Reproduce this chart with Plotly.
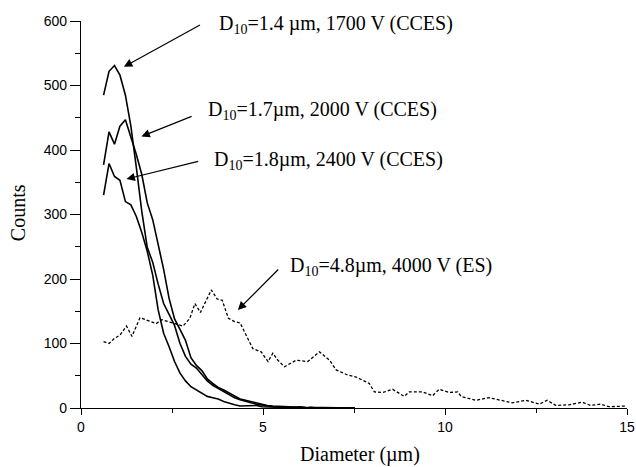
import plotly.graph_objects as go

# CCES diameter bins (µm)
x_cces = [0.62, 0.77, 0.92, 1.07, 1.22, 1.37, 1.52, 1.67, 1.82, 1.97, 2.12, 2.27, 2.42, 2.57,
          2.72, 2.87, 3.02, 3.17, 3.32, 3.47, 3.62, 3.77, 3.92, 4.07, 4.22, 4.37, 4.52, 4.67,
          4.82, 4.97, 5.12, 5.27, 5.42, 5.57, 5.72, 5.87, 6.02, 6.17, 6.32, 6.47, 6.62, 6.77,
          6.92, 7.07, 7.22, 7.37, 7.52]

counts_1700 = [485, 522, 531, 516, 485, 437, 373, 305, 249, 226, 192, 162, 145, 128,
               100, 80, 68, 62, 52, 42, 35, 30, 26, 20, 16, 13, 10, 8,
               6, 4, 3, 2, 2, 1, 1, 1, 1, 0, 1, 0, 0, 0,
               0, 0, 0, 0, 0]

counts_2000 = [377, 428, 409, 437, 447, 420, 393, 362, 318, 292, 255, 215, 170, 138,
               122, 105, 78, 66, 58, 45, 38, 32, 28, 23, 18, 14, 12, 10,
               7, 5, 4, 3, 3, 2, 2, 1, 2, 1, 1, 1, 0, 1,
               0, 0, 1, 0, 0]

counts_2400 = [330, 379, 359, 353, 320, 315, 297, 272, 243, 206, 152, 116, 95, 72,
               54, 42, 33, 28, 24, 18, 16, 14, 10, 7, 5, 3, 3, 4,
               4, 2, 2, 1, 1, 1, 0, 1, 0, 0, 0, 0, 0, 0,
               0, 0, 0, 0, 0]

# ES distribution
x_es = [0.62, 0.77, 0.92, 1.07, 1.25, 1.40, 1.62, 1.85, 2.07, 2.22, 2.40, 2.58, 2.80, 2.99,
        3.13, 3.28, 3.58, 3.74, 3.88, 4.05, 4.22, 4.37, 4.54, 4.72, 4.95, 5.14, 5.27, 5.41,
        5.59, 5.91, 6.23, 6.55, 6.83, 7.01, 7.33, 7.56, 7.74, 7.92, 8.06, 8.29, 8.56, 8.88,
        9.02, 9.38, 9.66, 9.84, 10.12, 10.35, 10.44, 10.85, 11.21, 11.58, 11.85, 12.22,
        12.59, 12.81, 13.04, 13.41, 13.77, 14.00, 14.28, 14.50, 14.96]
counts_4000 = [103, 100, 108, 113, 127, 111, 140, 136, 131, 137, 134, 131, 127, 139,
               162, 148, 183, 169, 167, 139, 134, 132, 113, 92, 87, 72, 85, 74,
               64, 74, 72, 87, 74, 59, 51, 48, 43, 38, 25, 24, 29, 18,
               25, 25, 19, 29, 24, 25, 18, 12, 16, 12, 8, 12,
               6, 12, 4, 5, 9, 4, 6, 2, 3]

x_ticks = [0, 5, 10, 15]
y_ticks = [0, 100, 200, 300, 400, 500, 600]
x_title = "Diameter (µm)"
y_title = "Counts"

labels = ["D<sub>10</sub>=1.4 µm, 1700 V (CCES)",
          "D<sub>10</sub>=1.7µm, 2000 V (CCES)",
          "D<sub>10</sub>=1.8µm, 2400 V (CCES)",
          "D<sub>10</sub>=4.8µm, 4000 V (ES)"]
# arrow heads, arrow tails, text anchors (data coordinates)
heads = [(1.18, 529), (1.66, 421), (1.25, 355), (4.31, 152)]
tails = [(3.31, 595), (3.08, 453), (3.26, 383), (5.46, 217)]
text_pos = [(3.73, 595), (3.43, 462), (3.59, 384), (5.68, 219)]

fig = go.Figure()
line_solid = dict(color="black", width=1.6)
for y in (counts_1700, counts_2000, counts_2400):
    fig.add_trace(go.Scatter(x=x_cces, y=y, mode="lines", line=line_solid,
                             showlegend=False, hoverinfo="skip"))
fig.add_trace(go.Scatter(x=x_es, y=counts_4000, mode="lines",
                         line=dict(color="black", width=1.3, dash="3px,2px"),
                         showlegend=False, hoverinfo="skip"))

serif = "Liberation Serif, Times New Roman, serif"
for lab, h, t, tp in zip(labels, heads, tails, text_pos):
    fig.add_annotation(x=h[0], y=h[1], ax=t[0], ay=t[1], axref="x", ayref="y",
                       xref="x", yref="y", text="", showarrow=True,
                       arrowhead=2, arrowsize=1.4, arrowwidth=1.2, arrowcolor="black")
    fig.add_annotation(x=tp[0], y=tp[1], xref="x", yref="y", text=lab,
                       showarrow=False, xanchor="left", yanchor="middle",
                       font=dict(family=serif, size=20, color="black"))

# axis titles
fig.add_annotation(x=0.511, y=-0.121, xref="paper", yref="paper", text=x_title,
                   showarrow=False, xanchor="center", yanchor="middle",
                   font=dict(family=serif, size=20, color="black"))
fig.add_annotation(x=-0.115, y=0.504, xref="paper", yref="paper", text=y_title,
                   showarrow=False, xanchor="center", yanchor="middle", textangle=-90,
                   font=dict(family=serif, size=20, color="black"))

sans = "Liberation Sans, Arial, sans-serif"
fig.update_layout(
    width=636, height=467,
    margin=dict(l=81, r=9, t=21, b=59, autoexpand=False),
    paper_bgcolor="white", plot_bgcolor="white",
    xaxis=dict(range=[0, 15], tickvals=x_ticks, ticks="outside", ticklen=6,
               tickwidth=1.2, tickcolor="black", showline=True, linecolor="black",
               linewidth=1.2, showgrid=False, zeroline=False, automargin=False,
               minor=dict(dtick=2.5, ticks="outside", ticklen=4, tickcolor="black", tickwidth=1),
               tickfont=dict(family=sans, size=14, color="black")),
    yaxis=dict(range=[0, 600], tickvals=y_ticks, ticks="outside", ticklen=10,
               tickwidth=1.2, tickcolor="black", showline=True, linecolor="black",
               linewidth=1.2, showgrid=False, zeroline=False, automargin=False,
               minor=dict(dtick=50, ticks="outside", ticklen=5, tickcolor="black", tickwidth=1),
               tickfont=dict(family=sans, size=14, color="black")),
)

fig.write_html("out.html", default_width="636px", default_height="467px",
               config={"responsive": False, "displayModeBar": False},
               post_script="document.body.style.margin='0px';")
